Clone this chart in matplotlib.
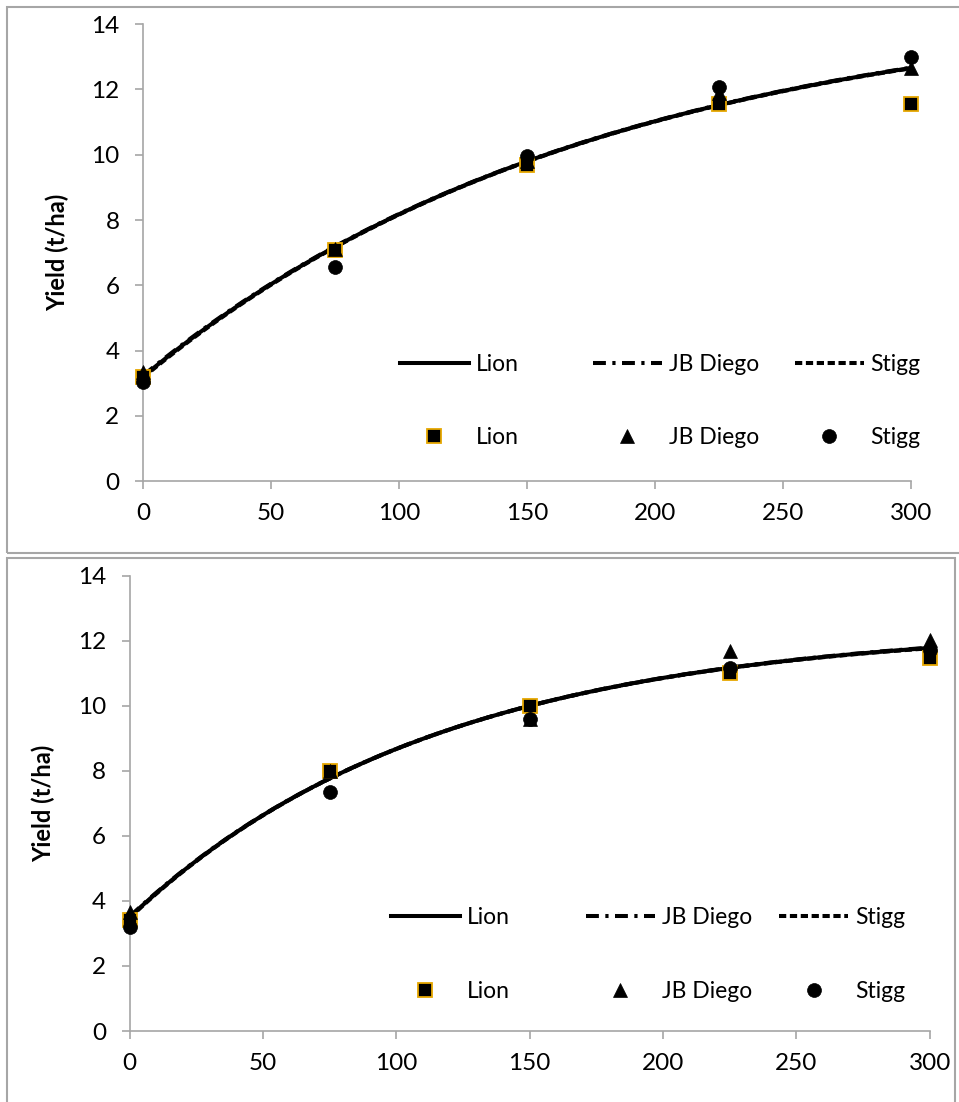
import matplotlib.pyplot as plt
from matplotlib.patches import Rectangle
from matplotlib.legend import Legend
import numpy as np

plt.rcParams['font.family'] = ['Lato', 'DejaVu Sans']

# N rate (kg/ha) and observed yields (t/ha)
n_rate = [0, 75, 150, 225, 300]

lion_top = [3.2, 7.08, 9.7, 11.56, 11.56]
diego_top = [3.35, 7.1, 9.8, 11.9, 12.65]
stigg_top = [3.05, 6.55, 9.95, 12.07, 13.0]

lion_bot = [3.4, 8.0, 10.0, 11.0, 11.47]
diego_bot = [3.65, 8.0, 9.6, 11.67, 12.03]
stigg_bot = [3.2, 7.35, 9.6, 11.17, 11.7]

# fitted response curves y = A - B*exp(-c*N)  (A, B, c)
fit_top = {'Lion': (14.85, 11.65, 0.00557),
           'JB Diego': (14.88, 11.65, 0.00554),
           'Stigg': (14.82, 11.65, 0.00560)}
fit_bot = {'Lion': (12.45, 8.95, 0.00863),
           'JB Diego': (12.47, 8.95, 0.00858),
           'Stigg': (12.43, 8.95, 0.00868)}

cultivars = ['Lion', 'JB Diego', 'Stigg']
y_ticks = [0, 2, 4, 6, 8, 10, 12, 14]
x_ticks = [0, 50, 100, 150, 200, 250, 300]

GREY = '#A6A6A6'
GOLD = '#E6A700'
line_styles = {'Lion': dict(linestyle='-'),
               'JB Diego': dict(linestyle=(0, (3.2, 1.6, 0.8, 1.6))),
               'Stigg': dict(linestyle=(0, (1.8, 0.9)))}
marker_styles = {'Lion': dict(marker='s', markersize=9.5, markerfacecolor='black',
                              markeredgecolor=GOLD, markeredgewidth=1.3),
                 'JB Diego': dict(marker='^', markersize=10, markerfacecolor='black',
                                  markeredgecolor='black', markeredgewidth=0.5),
                 'Stigg': dict(marker='o', markersize=10, markerfacecolor='black',
                               markeredgecolor='black', markeredgewidth=0.5)}


def draw_panel(ax, points, fits, legend_x, legend_y, ylab_x):
    xx = np.linspace(0, 300, 200)
    entries = []
    for name in cultivars:
        a, b, c = fits[name]
        ln, = ax.plot(xx, a - b * np.exp(-c * xx), color='black', lw=2.9,
                      label=name, zorder=2, **line_styles[name])
        pt, = ax.plot(n_rate, points[name], linestyle='none', label=name,
                      zorder=3, **marker_styles[name])
        ln.set_clip_on(False)
        pt.set_clip_on(False)
        entries.append((name, ln, pt))

    ax.set_xlim(0, 300)
    ax.set_ylim(0, 14)
    ax.set_xticks(x_ticks)
    ax.set_yticks(y_ticks)
    for side in ['top', 'right']:
        ax.spines[side].set_visible(False)
    for side in ['left', 'bottom']:
        ax.spines[side].set_color(GREY)
        ax.spines[side].set_linewidth(1.2)
    ax.tick_params(axis='both', direction='out', length=6, width=1.2, color=GREY,
                   labelsize=17.5, labelcolor='black')
    ax.tick_params(axis='x', pad=10)
    ax.tick_params(axis='y', pad=11)
    ax.set_ylabel('Yield (t/ha)', fontsize=17, fontweight='bold')
    ax.yaxis.set_label_coords(ylab_x, 0.5)

    # one small legend per column, like the Excel legend grid
    for (name, ln, pt), lx in zip(entries, legend_x):
        leg = Legend(ax, [ln, pt], [name, name], loc='center left',
                     bbox_to_anchor=(lx, legend_y), frameon=False, fontsize=16.5,
                     handlelength=3.0, handletextpad=0.3, labelspacing=2.28,
                     borderpad=0, borderaxespad=0)
        ax.add_artist(leg)


fig = plt.figure(figsize=(9.59, 11.02), dpi=100)

# panel borders
fig.patches.append(Rectangle((0.0073, 0.4982), 1.0, 0.4955, transform=fig.transFigure,
                             fill=False, edgecolor=GREY, linewidth=1.5))
fig.patches.append(Rectangle((0.0073, -0.02), 0.9885, 0.5136, transform=fig.transFigure,
                             fill=False, edgecolor=GREY, linewidth=1.5))

ax1 = fig.add_axes([0.1491, 0.5635, 0.8008, 0.4145])
draw_panel(ax1, {'Lion': lion_top, 'JB Diego': diego_top, 'Stigg': stigg_top},
           fit_top, [0.3346, 0.5859, 0.8490], 0.175, -0.096)

ax2 = fig.add_axes([0.1352, 0.0644, 0.8342, 0.4132])
draw_panel(ax2, {'Lion': lion_bot, 'JB Diego': diego_bot, 'Stigg': stigg_bot},
           fit_bot, [0.3266, 0.5704, 0.8123], 0.168, -0.093)

fig.savefig('out.png', dpi=100)
